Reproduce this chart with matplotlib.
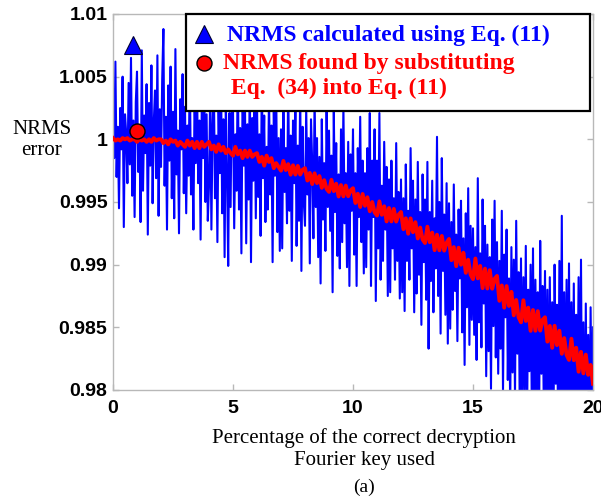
import numpy as np
import matplotlib
matplotlib.use("Agg")
import matplotlib.pyplot as plt
from matplotlib.patches import Rectangle

# ---- data ----
x_blue = np.round(np.arange(0, 20.0001, 0.05), 2)   # 401 samples
x_red = np.round(np.arange(0, 20.0001, 0.1), 1)     # 201 samples

nrms_eq11 = [
    1.0040, 0.9985, 1.0062, 0.9970, 1.0010, 0.9945, 1.0025, 0.9992, 1.0050, 0.9930,
    1.0020, 1.0005, 0.9965, 1.0045, 0.9980, 1.0065, 0.9955, 1.0015, 0.9938, 1.0030,
    1.0054, 0.9974, 1.0009, 0.9934, 1.0071, 0.9959, 1.0019, 0.9989, 1.0044, 0.9924,
    1.0029, 0.9979, 1.0059, 0.9949, 1.0014, 1.0039, 0.9969, 1.0067, 0.9939, 1.0024,
    0.9978, 1.0048, 1.0088, 0.9963, 1.0018, 0.9928, 1.0043, 0.9983, 1.0058, 0.9953,
    1.0022, 0.9937, 1.0072, 0.9972, 1.0007, 0.9925, 1.0032, 0.9992, 1.0052, 0.9957,
    1.0026, 0.9941, 1.0011, 0.9971, 1.0058, 0.9956, 1.0001, 0.9928, 1.0036, 0.9981,
    1.0045, 0.9965, 1.0015, 0.9920, 1.0030, 0.9985, 1.0053, 0.9950, 1.0020, 0.9935,
    0.9963, 1.0038, 0.9928, 1.0013, 1.0048, 0.9953, 1.0003, 0.9918, 1.0028, 0.9973,
    1.0051, 0.9941, 1.0016, 0.9906, 1.0031, 0.9976, 0.9899, 1.0021, 0.9946, 1.0041,
    1.0024, 0.9929, 1.0004, 0.9959, 1.0059, 0.9944, 1.0009, 0.9909, 1.0039, 0.9979,
    1.0027, 0.9917, 1.0012, 0.9952, 1.0047, 0.9902, 1.0017, 0.9967, 1.0042, 0.9937,
    1.0029, 0.9954, 1.0004, 0.9923, 1.0049, 0.9969, 1.0019, 0.9934, 0.9994, 0.9944,
    1.0036, 0.9956, 1.0011, 0.9902, 1.0026, 0.9971, 1.0041, 0.9926, 1.0001, 0.9911,
    1.0008, 0.9913, 1.0028, 0.9958, 0.9993, 0.9933, 1.0048, 0.9943, 1.0003, 0.9903,
    1.0015, 0.9965, 1.0030, 0.9915, 0.9995, 0.9935, 1.0040, 0.9895, 1.0010, 0.9950,
    0.9931, 1.0026, 0.9956, 1.0001, 0.9901, 1.0016, 0.9981, 0.9921, 1.0036, 0.9946,
    1.0001, 0.9906, 0.9986, 0.9885, 1.0016, 0.9936, 0.9981, 0.9911, 1.0026, 0.9946,
    1.0007, 0.9927, 0.9987, 0.9878, 1.0022, 0.9942, 0.9997, 0.9907, 0.9972, 0.9897,
    1.0008, 0.9918, 1.0028, 0.9933, 0.9973, 0.9898, 0.9998, 0.9883, 0.9988, 0.9943,
    1.0008, 0.9908, 0.9973, 0.9883, 0.9993, 0.9938, 1.0018, 0.9918, 0.9983, 0.9893,
    0.9973, 0.9898, 0.9993, 0.9928, 1.0021, 0.9883, 0.9983, 0.9938, 1.0008, 0.9871,
    0.9983, 0.9913, 1.0021, 0.9888, 0.9963, 0.9903, 0.9998, 0.9928, 0.9978, 0.9875,
    0.9968, 0.9878, 0.9983, 0.9913, 0.9953, 0.9888, 0.9997, 0.9903, 0.9958, 0.9873,
    0.9968, 0.9878, 0.9953, 0.9863, 0.9980, 0.9903, 0.9943, 0.9888, 0.9993, 0.9913,
    0.9967, 0.9862, 0.9952, 0.9877, 0.9982, 0.9892, 0.9942, 0.9852, 0.9972, 0.9902,
    0.9952, 0.9872, 0.9982, 0.9833, 0.9942, 0.9887, 0.9967, 0.9862, 0.9937, 0.9897,
    1.0002, 0.9875, 0.9950, 0.9845, 0.9985, 0.9895, 0.9940, 0.9860, 0.9965, 0.9837,
    0.9949, 0.9849, 0.9934, 0.9864, 0.9964, 0.9879, 0.9924, 0.9839, 0.9944, 0.9889,
    0.9951, 0.9846, 0.9921, 0.9820, 0.9941, 0.9866, 0.9961, 0.9836, 0.9931, 0.9856,
    0.9929, 0.9844, 0.9914, 0.9824, 0.9969, 0.9854, 0.9909, 0.9834, 0.9952, 0.9869,
    0.9931, 0.9811, 0.9916, 0.9831, 0.9906, 0.9801, 0.9936, 0.9851, 0.9951, 0.9826,
    0.9918, 0.9813, 0.9903, 0.9833, 0.9943, 0.9798, 0.9908, 0.9858, 0.9928, 0.9808,
    0.9889, 0.9784, 0.9914, 0.9814, 0.9904, 0.9794, 0.9935, 0.9829, 0.9894, 0.9779,
    0.9905, 0.9780, 0.9890, 0.9800, 0.9915, 0.9770, 0.9880, 0.9815, 0.9900, 0.9785,
    0.9913, 0.9768, 0.9888, 0.9798, 0.9878, 0.9758, 0.9919, 0.9813, 0.9883, 0.9783,
    0.9895, 0.9770, 0.9880, 0.9755, 0.9890, 0.9785, 0.9870, 0.9760, 0.9900, 0.9805,
    0.9868, 0.9758, 0.9903, 0.9768, 0.9939, 0.9743, 0.9878, 0.9778, 0.9888, 0.9753,
    0.9901, 0.9750, 0.9870, 0.9765, 0.9885, 0.9740, 0.9860, 0.9780, 0.9890, 0.9745,
    0.9904, 0.9744, 0.9854, 0.9724, 0.9869, 0.9759, 0.9844, 0.9739, 0.9866, 0.9764,
    0.9850,
]

nrms_eq34 = [
    1.0001, 0.9999, 1.0000, 0.9999, 1.0001, 1.0000, 1.0001, 0.9999, 1.0000, 1.0000,
    0.9998, 1.0000, 0.9999, 1.0000, 0.9998, 1.0000, 0.9998, 1.0001, 0.9999, 1.0000,
    1.0000, 0.9997, 0.9999, 0.9996, 1.0000, 0.9998, 0.9999, 0.9995, 0.9998, 0.9996,
    0.9994, 0.9999, 0.9995, 0.9998, 0.9993, 0.9998, 0.9993, 0.9998, 0.9994, 0.9996,
    0.9998, 0.9992, 0.9995, 0.9990, 0.9996, 0.9991, 0.9994, 0.9989, 0.9992, 0.9989,
    0.9987, 0.9994, 0.9988, 0.9991, 0.9985, 0.9991, 0.9986, 0.9991, 0.9986, 0.9988,
    0.9989, 0.9982, 0.9986, 0.9979, 0.9987, 0.9982, 0.9985, 0.9977, 0.9981, 0.9978,
    0.99750, 0.99828, 0.99755, 0.99802, 0.99718, 0.99793, 0.99719, 0.99788, 0.99719, 0.99757,
    0.99770, 0.99671, 0.99732, 0.99643, 0.99729, 0.99651, 0.99707, 0.99613, 0.99674, 0.99605,
    0.99581, 0.99677, 0.99587, 0.99646, 0.99544, 0.99635, 0.99545, 0.99631, 0.99546, 0.99593,
    0.99610, 0.99492, 0.99566, 0.99460, 0.99564, 0.99470, 0.99538, 0.99426, 0.99500, 0.99418,
    0.99392, 0.99505, 0.99398, 0.99466, 0.99345, 0.99452, 0.99345, 0.99445, 0.99344, 0.99399,
    0.99420, 0.99283, 0.99370, 0.99247, 0.99369, 0.99259, 0.99339, 0.99209, 0.99296, 0.99201,
    0.99173, 0.99303, 0.99179, 0.99256, 0.99116, 0.99239, 0.99115, 0.99229, 0.99112, 0.99175,
    0.99205, 0.99036, 0.99140, 0.98988, 0.99135, 0.99000, 0.99095, 0.98935, 0.99039, 0.98921,
    0.98885, 0.99049, 0.98891, 0.98990, 0.98813, 0.98968, 0.98810, 0.98956, 0.98808, 0.98887,
    0.98910, 0.98712, 0.98834, 0.98657, 0.98829, 0.98671, 0.98783, 0.98596, 0.98718, 0.98580,
    0.98540, 0.98716, 0.98551, 0.98657, 0.98472, 0.98638, 0.98473, 0.98629, 0.98474, 0.98560,
    0.98580, 0.98386, 0.98511, 0.98337, 0.98512, 0.98358, 0.98473, 0.98289, 0.98414, 0.98280,
    0.98240, 0.98409, 0.98238, 0.98337, 0.98146, 0.98304, 0.98133, 0.98282, 0.98121, 0.98200,
    0.98050,
]

# single marker symbols drawn inside the plot
marker_tri = (0.83, 1.0075)
marker_circ = (1.02, 1.00064)

x_ticks = [0, 5, 10, 15, 20]
y_ticks = [0.98, 0.985, 0.99, 0.995, 1.0, 1.005, 1.01]
y_tick_labels = ["0.98", "0.985", "0.99", "0.995", "1", "1.005", "1.01"]

label_blue = "NRMS calculated using Eq. (11)"
label_red1 = "NRMS found by substituting"
label_red2 = " Eq.  (34) into Eq. (11)"

# ---- figure ----
W, H = 601, 499
fig = plt.figure(figsize=(W / 100, H / 100), dpi=100)
ax = fig.add_axes([113 / W, 1 - 390 / H, 480 / W, 376 / H])

BLUE = "#0000ff"
RED = "#ff0000"

ax.plot(x_blue, nrms_eq11, color=BLUE, lw=1.5, zorder=2)
ax.plot(x_red, nrms_eq34, color=RED, lw=2.8, zorder=3)

ax.plot([marker_tri[0]], [marker_tri[1]], marker="^", ms=13, color=BLUE,
        mec="#000033", mew=0.8, ls="none", zorder=4, clip_on=False)
ax.plot([marker_circ[0]], [marker_circ[1]], marker="o", ms=10.8, color=RED,
        mec="black", mew=1.0, ls="none", zorder=4, clip_on=False)

ax.set_xlim(0, 20)
ax.set_ylim(0.98, 1.01)
ax.set_xticks(x_ticks)
ax.set_xticklabels([str(t) for t in x_ticks])
ax.set_yticks(y_ticks)
ax.set_yticklabels(y_tick_labels)

for lab in ax.get_xticklabels() + ax.get_yticklabels():
    lab.set_fontfamily("Liberation Sans")
    lab.set_fontweight("bold")
    lab.set_fontsize(14)

GRAY = "#b8b8b8"
for s in ax.spines.values():
    s.set_color(GRAY)
    s.set_linewidth(1.0)
ax.tick_params(direction="in", length=4, width=1, color=GRAY,
               top=True, right=True, pad=4)
ax.tick_params(axis="x", pad=7)

# ---- legend box (drawn by hand, figure-pixel layout) ----
def fx(px):
    return px / W

def fy(py):
    return 1 - py / H

tf = fig.transFigure
box = Rectangle((fx(186), fy(111)), fx(590) - fx(186), fy(14) - fy(111),
                transform=tf, facecolor="white", edgecolor="black", lw=1.6,
                zorder=10, clip_on=False)
ax.add_patch(box)
ax.plot([fx(204)], [fy(34)], marker="^", ms=13, color=BLUE, mec="#000033",
        mew=0.8, transform=tf, clip_on=False, zorder=11)
ax.plot([fx(203.5)], [fy(62.5)], marker="o", ms=10.8, color=RED, mec="black",
        mew=1.0, transform=tf, clip_on=False, zorder=11)
leg_font = dict(family="Liberation Serif", weight="bold", size=17)
ax.text(fx(227), fy(35), label_blue, color=BLUE, transform=tf, ha="left",
        va="center", zorder=12, **leg_font)
ax.text(fx(223), fy(63), label_red1, color=RED, transform=tf, ha="left",
        va="center", zorder=12, **leg_font)
ax.text(fx(225), fy(88), label_red2, color=RED, transform=tf, ha="left",
        va="center", zorder=12, **leg_font)

serif = "Liberation Serif"
fig.text(42 / W, 1 - 140 / H, "NRMS\nerror", ha="center", va="center",
         family=serif, size=15, linespacing=1.15)
fig.text(364 / W, 1 - 449 / H, "Percentage of the correct decryption\nFourier key used",
         ha="center", va="center", family=serif, size=15, linespacing=1.25)
fig.text(364 / W, 1 - 487 / H, "(a)", ha="center", va="center",
         family=serif, size=14)

fig.savefig("out.png", dpi=100)
